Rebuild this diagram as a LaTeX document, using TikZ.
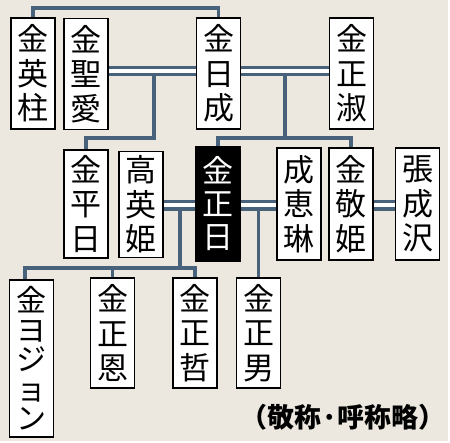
\documentclass[tikz,border=0pt]{standalone}
\usepackage{fontspec}
\newfontfamily\jpfont{Noto Sans CJK JP}
\usetikzlibrary{backgrounds,calc}

\definecolor{paper}{RGB}{236,232,224}
\definecolor{linkblue}{RGB}{72,98,124}

\tikzset{
  namebox/.style={draw=black, line width=1.5pt, fill=white, inner sep=0pt,
    minimum width=44pt, minimum height=111pt, align=center,
    font=\jpfont\fontsize{31}{34.5}\selectfont},
  leader/.style={namebox, fill=black, text=white},
  kin/.style={draw=linkblue, line width=3.5pt},
  wed/.style={draw=linkblue, line width=3.3pt, double=white, double distance=4pt}
}

\begin{document}
\begin{tikzpicture}[x=1pt, y=-1pt]
    \useasboundingbox (0,0) rectangle (450,443);

    % First generation
    \node[namebox] (eishu)    at (33,73.5)    {金\\英\\柱};
    \node[namebox] (seiai)    at (86,74)      {金\\聖\\愛};
    \node[namebox] (nissei)   at (218.5,73.5) {金\\日\\成};
    \node[namebox] (seishuku) at (351.5,73.5) {金\\正\\淑};

    % Second generation
    \node[namebox, minimum height=108pt] (heinichi) at (86,204)  {金\\平\\日};
    \node[namebox, minimum height=106pt] (eiki)     at (141,204.5) {高\\英\\姫};
    \node[leader, minimum height=114pt, font=\jpfont\fontsize{31}{33}\selectfont] (shonichi) at (218,204) {金\\正\\日};
    \node[namebox, minimum height=112pt] (keirin)   at (299,204) {成\\恵\\琳};
    \node[namebox, minimum height=112pt] (keiki)    at (351,204) {金\\敬\\姫};
    \node[namebox, minimum height=112pt] (seitaku)  at (417.5,204) {張\\成\\沢};

    % Third generation
    \node[namebox, minimum height=157pt,
      font=\jpfont\fontsize{30}{29.5}\selectfont] (yojong) at (31.5,358.5) {金\\ヨ\\ジ\\ョ\\ン};
    \node[namebox, minimum height=110pt] (seion)    at (112.5,333) {金\\正\\恩};
    \node[namebox, minimum height=110pt] (seitetsu) at (195,333)   {金\\正\\哲};
    \node[namebox, minimum height=110pt] (seidan)   at (258.5,333) {金\\正\\男};

    \node[font=\jpfont\bfseries\fontsize{27}{27}\selectfont] (note) at (343,417) {（敬称·呼称略）};

    \begin{pgfonlayer}{background}
        \fill[paper] (0,0) rectangle (448,441);

        % Junctions
        \coordinate (top)  at (0,8);
        \coordinate (bus1) at (0,138);
        \coordinate (bus3) at (0,268);
        \coordinate (m1) at (154,71);
        \coordinate (m2) at (285,71);
        \coordinate (m3) at (180,205.5);
        \coordinate (m4) at (258.5,205.5);

        % Brothers
        \draw[kin] (eishu.north) |- (top -| nissei.north) -- (nissei.north);

        % Children lines
        \draw[kin] (m1) |- (heinichi.north |- bus1) -- (heinichi.north);
        \draw[kin] (m2) -- (m2 |- bus1);
        \draw[kin] (shonichi.north) |- (keiki.north |- bus1) -- (keiki.north);
        \draw[kin] (m3) -- (m3 |- bus3);
        \draw[kin] ([xshift=-6.5pt]yojong.north) |- (seitetsu.north |- bus3) -- (seitetsu.north);
        \draw[kin] (seion.north) -- (seion.north |- bus3);
        \draw[kin] (m4) -- (seidan.north);

        % Marriages
        \draw[wed] (seiai.east |- m1) -- (nissei.west |- m1);
        \draw[wed] (nissei.east |- m2) -- (seishuku.west |- m2);
        \draw[wed] (eiki.east |- m3) -- (shonichi.west |- m3);
        \draw[wed] (shonichi.east |- m4) -- (keirin.west |- m4);
        \draw[wed] (keiki.east |- m4) -- (seitaku.west |- m4);
    \end{pgfonlayer}
\end{tikzpicture}
\end{document}
